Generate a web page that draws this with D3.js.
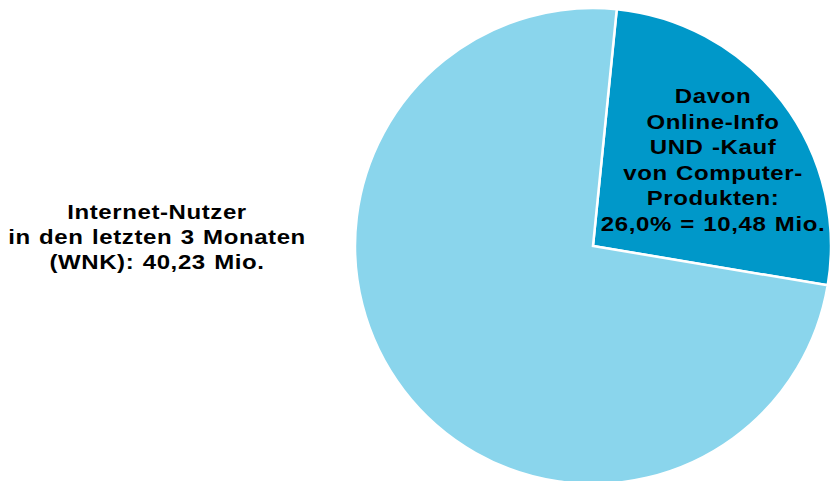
<!DOCTYPE html>
<html>
<head>
<meta charset="utf-8">
<script src="https://cdn.jsdelivr.net/npm/d3@7"></script>
<style>
  html, body { margin: 0; padding: 0; background: #fff; }
  svg { display: block; }
  text { font-family: "Liberation Sans", Arial, sans-serif; font-weight: bold; fill: #000; }
</style>
</head>
<body>
<svg id="chart" width="830" height="481"></svg>
<script>
// Segments of the internet user base (million people)
const categories = ["Online-Info UND -Kauf von Computer-Produkten", "Übrige Internet-Nutzer"];
const values = [10.48, 29.75];
const colors = ["#0098C9", "#8AD5EC"];

// Label lines
const totalLabel = ["Internet-Nutzer", "in den letzten 3 Monaten", "(WNK): 40,23 Mio."];
const sliceLabel = ["Davon", "Online-Info", "UND -Kauf", "von Computer-", "Produkten:", "26,0% = 10,48 Mio."];

const svg = d3.select("#chart");
const cx = 593, cy = 246, r = 238;
const startAngle = 0.1;

const pie = d3.pie().sort(null).value(d => d)
  .startAngle(startAngle).endAngle(startAngle + 2 * Math.PI);
const arc = d3.arc().innerRadius(0).outerRadius(r);

const g = svg.append("g").attr("transform", `translate(${cx},${cy})`);
g.selectAll("path")
  .data(pie(values))
  .join("path")
  .attr("d", arc)
  .attr("fill", (d, i) => colors[i])
  .attr("stroke", "#fff")
  .attr("stroke-width", 2.5)
  .attr("stroke-linejoin", "miter");

// Centered multi-line label, drawn slightly widened
function block(lines, x, y0, lh) {
  svg.append("text")
    .attr("text-anchor", "middle")
    .attr("transform", `translate(${x},${y0}) scale(1.2,1)`)
    .style("font-size", "20px")
    .style("letter-spacing", "0.5px")
    .style("word-spacing", "1px")
    .selectAll("tspan")
    .data(lines)
    .join("tspan")
    .attr("x", 0)
    .attr("y", (d, i) => i * lh)
    .text(d => d);
}

block(totalLabel, 157, 219, 25);
block(sliceLabel, 713, 103, 25.6);
</script>
</body>
</html>
